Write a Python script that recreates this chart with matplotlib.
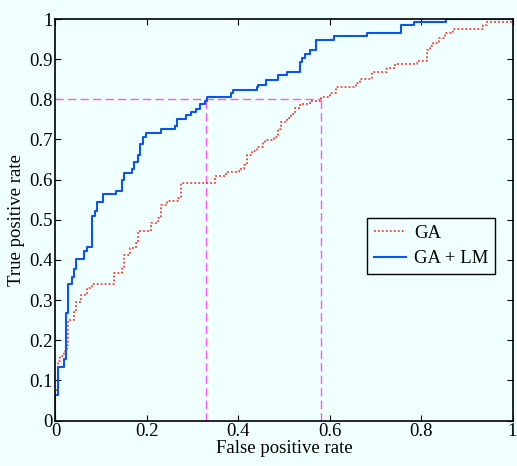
import matplotlib
matplotlib.use("Agg")
import matplotlib.pyplot as plt

# ROC curves (step points: fpr where tpr jumps)
ga_fpr = [0, 0, 0.0055, 0.0106, 0.018, 0.025, 0.027, 0.040, 0.046, 0.0565,
          0.070, 0.081, 0.129, 0.146, 0.151, 0.164, 0.176, 0.180, 0.208, 0.225,
          0.231, 0.244, 0.269, 0.274, 0.349, 0.373, 0.402, 0.413, 0.418, 0.429,
          0.4416, 0.453, 0.459, 0.478, 0.486, 0.494, 0.507, 0.516, 0.525, 0.535,
          0.557, 0.5816, 0.6007, 0.614, 0.6576, 0.666, 0.692, 0.726, 0.743, 0.790,
          0.812, 0.8195, 0.827, 0.840, 0.852, 0.870, 0.936, 0.9435, 1.0]
ga_tpr = [0, 0.075, 0.147, 0.160, 0.172, 0.189, 0.251, 0.270, 0.294, 0.312,
          0.331, 0.340, 0.368, 0.383, 0.411, 0.429, 0.441, 0.472, 0.493, 0.505,
          0.538, 0.546, 0.555, 0.592, 0.609, 0.618, 0.627, 0.637, 0.661, 0.671,
          0.682, 0.690, 0.699, 0.707, 0.725, 0.743, 0.753, 0.763, 0.778, 0.788,
          0.797, 0.806, 0.815, 0.831, 0.841, 0.8506, 0.869, 0.877, 0.887, 0.895,
          0.923, 0.933, 0.941, 0.952, 0.966, 0.975, 0.985, 0.993, 1.0]

galm_fpr = [0, 0, 0.0055, 0.018, 0.023, 0.028, 0.036, 0.040, 0.046, 0.063,
            0.070, 0.081, 0.087, 0.0915, 0.103, 0.132, 0.145, 0.151, 0.167, 0.171,
            0.181, 0.185, 0.192, 0.198, 0.231, 0.2615, 0.2666, 0.285, 0.2965, 0.307,
            0.316, 0.3265, 0.331, 0.384, 0.389, 0.440, 0.444, 0.461, 0.4876, 0.507,
            0.535, 0.5394, 0.546, 0.558, 0.569, 0.610, 0.681, 0.755, 0.785, 0.8545, 1.0]
galm_tpr = [0, 0.063, 0.134, 0.153, 0.269, 0.340, 0.358, 0.377, 0.402, 0.423,
            0.431, 0.510, 0.522, 0.545, 0.564, 0.572, 0.600, 0.617, 0.626, 0.643,
            0.661, 0.689, 0.706, 0.715, 0.725, 0.734, 0.750, 0.760, 0.769, 0.777,
            0.7875, 0.797, 0.807, 0.815, 0.823, 0.830, 0.836, 0.848, 0.8605, 0.869,
            0.894, 0.904, 0.913, 0.923, 0.948, 0.958, 0.966, 0.985, 0.992, 1.0, 1.0]

# operating point guide lines
tpr_level = 0.8
fpr_galm = 0.33
fpr_ga = 0.58

bg = "#F0FFFF"
plt.rcParams["font.family"] = ["Liberation Serif", "DejaVu Serif"]
plt.rcParams["font.size"] = 13.5

fig = plt.figure(figsize=(5.17, 4.66), dpi=100, facecolor=bg)
ax = fig.add_axes([0.1073, 0.0976, 0.8840, 0.8616])
ax.set_facecolor(bg)

dash = (0, (6, 3))
ax.plot([0, fpr_ga], [tpr_level, tpr_level], color="#FF55FF", lw=1, linestyle=dash)
ax.plot([fpr_galm, fpr_galm], [0, tpr_level], color="#FF55FF", lw=1, linestyle=dash)
ax.plot([fpr_ga, fpr_ga], [0, tpr_level], color="#FF55FF", lw=1, linestyle=dash)

ax.plot(ga_fpr, ga_tpr, drawstyle="steps-post", color="#FF3B2B", lw=1.3,
        linestyle=(0, (1, 1.2)), label="GA")
ax.plot(galm_fpr, galm_tpr, drawstyle="steps-post", color="#0A55F0", lw=1.5,
        label="GA + LM")

ax.set_xlim(0, 1)
ax.set_ylim(0, 1)
xt = [0, 0.2, 0.4, 0.6, 0.8, 1]
yt = [0, 0.1, 0.2, 0.3, 0.4, 0.5, 0.6, 0.7, 0.8, 0.9, 1]
ax.set_xticks(xt)
ax.set_xticklabels(["0", "0.2", "0.4", "0.6", "0.8", "1"])
ax.set_yticks(yt)
ax.set_yticklabels(["0", "0.1", "0.2", "0.3", "0.4", "0.5", "0.6", "0.7", "0.8", "0.9", "1"])
ax.tick_params(direction="in", top=True, right=True, length=4, width=0.8, pad=2)
for s in ax.spines.values():
    s.set_linewidth(1.2)

ax.set_xlabel("False positive rate", labelpad=0)
ax.set_ylabel("True positive rate", labelpad=3)

leg = ax.legend(loc="upper right", bbox_to_anchor=(0.962, 0.504), fancybox=False,
                edgecolor="black", facecolor=bg, framealpha=1, handlelength=1.7,
                borderaxespad=0, borderpad=0.35, labelspacing=0.45, handletextpad=0.45)
leg.get_frame().set_linewidth(1)

fig.savefig("out.png", dpi=100, facecolor=bg)
